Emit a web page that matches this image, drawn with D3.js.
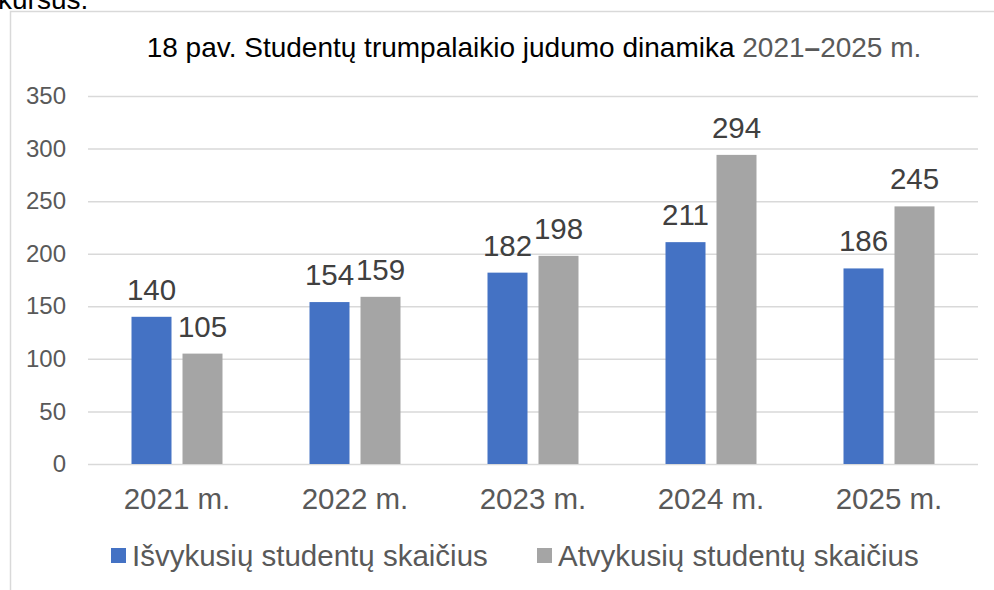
<!DOCTYPE html>
<html>
<head>
<meta charset="utf-8">
<script src="https://cdn.jsdelivr.net/npm/d3@7"></script>
<style>
  body { margin: 0; background: #fff; }
  svg { display: block; font-family: "Liberation Sans", Arial, sans-serif; }
</style>
</head>
<body>
<div id="chart"></div>
<script>
const categories = ["2021 m.", "2022 m.", "2023 m.", "2024 m.", "2025 m."]
const seriesNames = ["Išvykusių studentų skaičius", "Atvykusių studentų skaičius"]
const outgoing = [140, 154, 182, 211, 186]
const incoming = [105, 159, 198, 294, 245]
const yTicks = [0, 50, 100, 150, 200, 250, 300, 350]
const colors = ["#4472C4", "#A5A5A5"]

const gc = {
    width: 994,
    height: 590,
    plot: { left: 88, right: 978, top: 96, bottom: 464 },
    grid: '#D9D9D9',
    text: {
        axis: '#595959',
        label: '#404040'
    }
}

function drawFrame(svg) {
    // text line of the page above the chart, cut off by the window
    svg.append("text")
        .attr("x", -2)
        .attr("y", 9)
        .style("font-size", "28px")
        .attr("fill", "#000")
        .text("kursus.")

    svg.append("path")
        .attr("d", "M10.5,590V11.5H994")
        .attr("fill", "none")
        .attr("stroke", gc.grid)
        .attr("stroke-width", 1.5)
}

function drawTitle(svg) {
    const t = svg.append("text")
        .attr("x", 534)
        .attr("y", 57)
        .attr("text-anchor", "middle")
        .style("font-size", "28px")
        .attr("fill", "#000")
    t.append("tspan").text("18 pav. Studentų trumpalaikio judumo dinamika ")
    t.append("tspan").attr("fill", gc.text.axis).text("2021")
    t.append("tspan").attr("fill", gc.text.axis).attr("font-weight", "bold").text("–")
    t.append("tspan").attr("fill", gc.text.axis).text("2025 m.")
}

function drawAxes(svg, x0, y) {
    const yAxis = d3.axisLeft(y)
        .tickValues(yTicks)
        .tickSize(-(gc.plot.right - gc.plot.left))
        .tickPadding(22)

    const gy = svg.append("g")
        .attr("transform", "translate(" + gc.plot.left + ",0)")
        .call(yAxis)
    gy.select(".domain").remove()
    gy.selectAll(".tick line")
        .attr("stroke", gc.grid)
        .attr("stroke-width", 1.5)
    gy.selectAll(".tick text")
        .attr("fill", gc.text.axis)
        .style("font-size", "24px")
        .attr("font-family", null)

    const xAxis = d3.axisBottom(x0)
        .tickSize(0)
        .tickPadding(24)

    const gx = svg.append("g")
        .attr("transform", "translate(0," + gc.plot.bottom + ")")
        .call(xAxis)
    gx.select(".domain").remove()
    gx.selectAll(".tick text")
        .attr("fill", gc.text.axis)
        .style("font-size", "29.5px")
        .attr("font-family", null)
}

function drawBars(svg, x0, x1, y, rows) {
    const groups = svg.append("g")
        .selectAll("g")
        .data(rows)
        .join("g")
        .attr("transform", d => "translate(" + x0(d.category) + ",0)")

    groups.selectAll("rect")
        .data(d => d.values)
        .join("rect")
        .attr("x", d => x1(d.series))
        .attr("y", d => y(d.value))
        .attr("width", x1.bandwidth())
        .attr("height", d => y(0) - y(d.value))
        .attr("fill", (d, i) => colors[i])

    groups.selectAll("text")
        .data(d => d.values)
        .join("text")
        .attr("x", d => x1(d.series) + x1.bandwidth() / 2)
        .attr("y", d => y(d.value) - 17)
        .attr("text-anchor", "middle")
        .attr("fill", gc.text.label)
        .style("font-size", "29.5px")
        .text(d => d.value)
}

function drawLegend(svg) {
    const items = [
        { x: 111, name: seriesNames[0], color: colors[0] },
        { x: 537, name: seriesNames[1], color: colors[1] }
    ]
    items.forEach(item => {
        svg.append("rect")
            .attr("x", item.x)
            .attr("y", 548)
            .attr("width", 15)
            .attr("height", 15)
            .attr("fill", item.color)
        svg.append("text")
            .attr("x", item.x + 21)
            .attr("y", 566)
            .attr("fill", gc.text.axis)
            .style("font-size", "29.5px")
            .text(item.name)
    })
}

const rows = categories.map((c, i) => ({
    category: c,
    values: [
        { series: seriesNames[0], value: outgoing[i] },
        { series: seriesNames[1], value: incoming[i] }
    ]
}))

const svg = d3.select("#chart").append("svg")
    .attr("width", gc.width)
    .attr("height", gc.height)

const x0 = d3.scaleBand()
    .domain(categories)
    .range([gc.plot.left, gc.plot.right])

const x1 = d3.scaleBand()
    .domain(seriesNames)
    .range([0, x0.bandwidth()])
    .paddingInner(0.2157)
    .paddingOuter(0.853)

const y = d3.scaleLinear()
    .domain([0, 350])
    .range([gc.plot.bottom, gc.plot.top])

drawFrame(svg)
drawTitle(svg)
drawAxes(svg, x0, y)
drawBars(svg, x0, x1, y, rows)
drawLegend(svg)
</script>
</body>
</html>
